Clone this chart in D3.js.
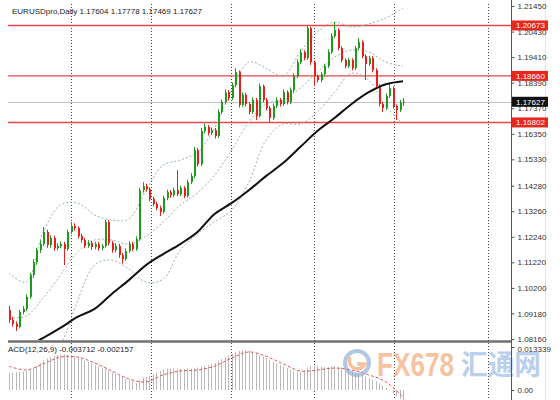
<!DOCTYPE html>
<html>
<head>
<meta charset="utf-8">
<script src="https://cdn.jsdelivr.net/npm/d3@7"></script>
<style>
	body { margin: 0; background: #fff; }
	svg { display: block; font-family: "Liberation Sans", Arial, sans-serif; }
</style>
</head>
<body>
<script>
//daily EURUSD candles
var opens = [1.0932,1.0892,1.0876,1.0864,1.0924,1.0936,1.0984,1.1071,1.1123,1.1171,
	1.1195,1.1243,1.1191,1.1219,1.1179,1.1187,1.1195,1.1175,1.1243,1.1267,
	1.1259,1.1227,1.1211,1.1187,1.1199,1.1183,1.1195,1.1179,1.1187,1.1283,
	1.1199,1.1171,1.1187,1.1151,1.1135,1.1167,1.1195,1.1175,1.1215,1.1410,
	1.1426,1.1414,1.1375,1.1355,1.1339,1.1323,1.1379,1.1402,1.1390,1.1410,
	1.1394,1.1418,1.1387,1.1442,1.1466,1.1570,1.1514,1.1646,1.1662,1.1638,
	1.1650,1.1626,1.1722,1.1762,1.1801,1.1778,1.1829,1.1881,1.1750,1.1790,
	1.1754,1.1722,1.1770,1.1706,1.1825,1.1770,1.1738,1.1698,1.1746,1.1770,
	1.1754,1.1801,1.1762,1.1809,1.1865,1.1921,1.1961,1.1937,1.2057,1.1921,
	1.1865,1.1849,1.1873,1.1905,1.1961,1.2025,1.2049,1.1977,1.1929,1.1905,
	1.1929,1.1897,1.1977,1.2001,1.1945,1.1913,1.1937,1.1889,1.1825,1.1754,
	1.1738,1.1786,1.1817,1.1746,1.1730,1.17604];
var highs = [1.0948,1.0904,1.0886,1.0932,1.0948,1.0994,1.1080,1.1134,1.1180,1.1210,
	1.1263,1.1252,1.1230,1.1228,1.1198,1.1206,1.1204,1.1252,1.1283,1.1278,
	1.1266,1.1236,1.1220,1.1210,1.1208,1.1204,1.1203,1.1196,1.1291,1.1290,
	1.1208,1.1198,1.1196,1.1160,1.1178,1.1206,1.1204,1.1226,1.1420,1.1442,
	1.1436,1.1422,1.1384,1.1364,1.1348,1.1388,1.1412,1.1410,1.1420,1.1490,
	1.1428,1.1426,1.1452,1.1478,1.1582,1.1578,1.1658,1.1676,1.1670,1.1660,
	1.1658,1.1732,1.1772,1.1812,1.1810,1.1840,1.1897,1.1888,1.1800,1.1798,
	1.1762,1.1780,1.1778,1.1836,1.1832,1.1778,1.1746,1.1756,1.1780,1.1778,
	1.1812,1.1808,1.1820,1.1876,1.1932,1.1972,1.1968,1.2069,1.2062,1.1928,
	1.1872,1.1882,1.1914,1.1972,1.2036,1.2081,1.2056,1.1984,1.1936,1.1938,
	1.1936,1.1986,1.2017,1.2008,1.1952,1.1946,1.1944,1.1896,1.1832,1.1762,
	1.1796,1.1833,1.1824,1.1752,1.1770,1.17778];
var lows = [1.0880,1.0866,1.0848,1.0858,1.0914,1.0928,1.0976,1.1060,1.1112,1.1160,
	1.1187,1.1180,1.1180,1.1168,1.1170,1.1178,1.1111,1.1168,1.1235,1.1248,
	1.1218,1.1200,1.1178,1.1180,1.1172,1.1174,1.1168,1.1170,1.1180,1.1190,
	1.1160,1.1162,1.1140,1.1117,1.1128,1.1160,1.1166,1.1168,1.1208,1.1400,
	1.1404,1.1366,1.1346,1.1330,1.1307,1.1316,1.1370,1.1380,1.1382,1.1386,
	1.1386,1.1378,1.1380,1.1434,1.1458,1.1504,1.1506,1.1636,1.1628,1.1630,
	1.1616,1.1618,1.1714,1.1754,1.1768,1.1770,1.1820,1.1740,1.1742,1.1744,
	1.1712,1.1714,1.1690,1.1700,1.1760,1.1728,1.1682,1.1690,1.1738,1.1744,
	1.1746,1.1752,1.1754,1.1800,1.1858,1.1912,1.1928,1.1930,1.1910,1.1825,
	1.1840,1.1840,1.1866,1.1898,1.1954,1.2018,1.1968,1.1920,1.1896,1.1898,
	1.1888,1.1890,1.1970,1.1936,1.1849,1.1906,1.1880,1.1816,1.1744,1.1722,
	1.1730,1.1778,1.1736,1.1690,1.1722,1.17469];
var closes = [1.0892,1.0876,1.0864,1.0924,1.0936,1.0984,1.1071,1.1123,1.1171,1.1195,
	1.1243,1.1191,1.1219,1.1179,1.1187,1.1195,1.1175,1.1243,1.1267,1.1259,
	1.1227,1.1211,1.1187,1.1199,1.1183,1.1195,1.1179,1.1187,1.1283,1.1199,
	1.1171,1.1187,1.1151,1.1135,1.1167,1.1195,1.1175,1.1215,1.1410,1.1426,
	1.1414,1.1375,1.1355,1.1339,1.1323,1.1379,1.1402,1.1390,1.1410,1.1394,
	1.1418,1.1387,1.1442,1.1466,1.1570,1.1514,1.1646,1.1662,1.1638,1.1650,
	1.1626,1.1722,1.1762,1.1801,1.1778,1.1829,1.1881,1.1750,1.1790,1.1754,
	1.1722,1.1770,1.1706,1.1825,1.1770,1.1738,1.1698,1.1746,1.1770,1.1754,
	1.1801,1.1762,1.1809,1.1865,1.1921,1.1961,1.1937,1.2057,1.1921,1.1865,
	1.1849,1.1873,1.1905,1.1961,1.2025,1.2049,1.1977,1.1929,1.1905,1.1929,
	1.1897,1.1977,1.2001,1.1945,1.1913,1.1937,1.1889,1.1825,1.1754,1.1738,
	1.1786,1.1817,1.1746,1.1730,1.1760,1.17627];

//indicator lines, sampled every 5 bars
var sampleBars = [0,5,10,15,20,25,30,35,40,45,50,55,60,65,70,75,80,85,90,95,100,105,110,115];
var maVals = [1.0748,1.0784,1.0820,1.0860,1.0904,1.0936,1.0996,1.1051,1.1111,1.1155,1.1195,1.1243,
	1.1315,1.1359,1.1410,1.1466,1.1518,1.1582,1.1646,1.1698,1.1754,1.1801,1.1833,1.1845];
var bbUpper = [1.1079,1.1043,1.1243,1.1351,1.1359,1.1311,1.1291,1.1295,1.1410,1.1510,1.1530,1.1562,
	1.1658,1.1809,1.1921,1.1897,1.1865,1.1961,1.2041,1.2081,1.2061,1.2073,1.2097,1.2137];
var bbMiddle = [1.0900,1.0908,1.0980,1.1071,1.1163,1.1211,1.1211,1.1195,1.1227,1.1283,1.1351,1.1399,
	1.1470,1.1570,1.1682,1.1754,1.1770,1.1817,1.1881,1.1941,1.1969,1.1961,1.1921,1.1905];
var bbLower = [1.0720,1.0772,1.0716,1.0792,1.0968,1.1111,1.1131,1.1095,1.1043,1.1055,1.1171,1.1235,
	1.1283,1.1331,1.1442,1.1610,1.1674,1.1674,1.1722,1.1801,1.1877,1.1849,1.1746,1.1674];

//MACD(12,26,9)
var macdHist = [0.0053,0.0054,0.0055,0.0056,0.0058,0.0060,0.0063,0.0068,0.0075,0.0084,
	0.0092,0.0098,0.0102,0.0106,0.0108,0.0110,0.0111,0.0110,0.0108,0.0104,
	0.0100,0.0096,0.0091,0.0087,0.0083,0.0078,0.0074,0.0068,0.0066,0.0060,
	0.0055,0.0050,0.0045,0.0040,0.0035,0.0030,0.0026,0.0022,0.0030,0.0038,
	0.0040,0.0044,0.0050,0.0055,0.0060,0.0063,0.0066,0.0066,0.0067,0.0066,
	0.0066,0.0065,0.0066,0.0067,0.0068,0.0070,0.0072,0.0075,0.0078,0.0080,
	0.0084,0.0090,0.0096,0.0102,0.0107,0.0112,0.0117,0.0121,0.0124,0.0124,
	0.0122,0.0118,0.0114,0.0108,0.0104,0.0099,0.0094,0.0088,0.0083,0.0078,
	0.0073,0.0068,0.0063,0.0058,0.0055,0.0056,0.0062,0.0070,0.0074,0.0076,
	0.0075,0.0072,0.0071,0.0072,0.0074,0.0074,0.0072,0.0070,0.0066,0.0062,
	0.0058,0.0054,0.0050,0.0046,0.0041,0.0036,0.0032,0.0027,0.0020,0.0013,
	0.0006,0.0000,-0.0010,-0.0020,-0.0028,-0.003712];
var macdSignal = [0.0074,0.0062,0.0081,0.0102,0.0102,0.0084,0.0059,0.0034,0.0025,0.0047,0.0059,0.0062,
	0.0074,0.0099,0.0118,0.0105,0.0081,0.0059,0.0062,0.0068,0.0062,0.0047,0.0025,-0.002157];

//axis labels and marked levels
var tickVals = [1.21450,1.20430,1.19410,1.18390,1.17370,1.16350,1.15330,1.14280,1.13260,1.12240,1.11220,1.10200,1.09180,1.08160];
var levels = [1.20673, 1.18660, 1.16802];
var lastPrice = 1.17627;
var gridBars = [18.1, 41.4, 64.7, 88.9, 112.5, 139.7];
var macdTicks = [0.013339, 0];
var macdMin = -0.006524;

var width = 560, height = 400,
	plotRight = 511;

var svg = d3.select("body")
	.append("svg")
	.attr("width", width)
	.attr("height", height);

var x = d3.scaleLinear().domain([0, closes.length - 1]).range([9, 403]);
var y = d3.scaleLinear().domain([1.0816, 1.2145]).range([339, 6]);
var ym = d3.scaleLinear().domain([0, 0.013339]).range([390, 347]);

var defs = svg.append("defs");
defs.append("clipPath").attr("id", "clipMain")
	.append("rect").attr("x", 0).attr("y", 0).attr("width", plotRight).attr("height", 340);
defs.append("clipPath").attr("id", "clipMacd")
	.append("rect").attr("x", 0).attr("y", 343).attr("width", plotRight).attr("height", 57);

//right side border
svg.append("line")
	.attr("x1", 545.5).attr("x2", 545.5).attr("y1", 0).attr("y2", height)
	.attr("stroke", "#e2e2e2");

//vertical dotted grid
svg.selectAll(".vgrid")
	.data(gridBars)
	.enter()
	.append("line")
	.attr("class", "vgrid")
	.attr("x1", function(d){ return Math.round(x(d)) + 0.5; })
	.attr("x2", function(d){ return Math.round(x(d)) + 0.5; })
	.attr("y1", 4).attr("y2", height)
	.attr("stroke", "#444")
	.attr("stroke-dasharray", "1,2");

var main = svg.append("g").attr("clip-path", "url(#clipMain)");

//price line and levels
main.append("line")
	.attr("x1", 8).attr("x2", plotRight)
	.attr("y1", Math.round(y(lastPrice)) + 0.5).attr("y2", Math.round(y(lastPrice)) + 0.5)
	.attr("stroke", "#c4c4c4");

main.selectAll(".level")
	.data(levels)
	.enter()
	.append("line")
	.attr("class", "level")
	.attr("x1", 8).attr("x2", plotRight)
	.attr("y1", function(d){ return y(d); })
	.attr("y2", function(d){ return y(d); })
	.attr("stroke", "#e8474a")
	.attr("stroke-width", 1.4);

//bollinger bands
var bandLine = function(vals){
	return d3.line()
		.x(function(d, i){ return x(sampleBars[i]); })
		.y(function(d){ return y(d); })
		.curve(d3.curveCatmullRom)(vals);
};
[bbUpper, bbMiddle, bbLower].forEach(function(vals){
	main.append("path")
		.attr("d", bandLine(vals))
		.attr("fill", "none")
		.attr("stroke", "#92b8a6")
		.attr("stroke-width", 1)
		.attr("stroke-dasharray", "2,2");
});

//candles
var bars = closes.map(function(c, i){
	return {i: i, o: opens[i], h: highs[i], l: lows[i], c: c};
});
var candle = main.selectAll(".candle")
	.data(bars)
	.enter()
	.append("g")
	.attr("class", "candle")
	.attr("fill", function(d){ return d.c >= d.o ? "#1f9a1f" : "#e5201c"; })
	.attr("stroke", function(d){ return d.c >= d.o ? "#1f9a1f" : "#e5201c"; });
candle.append("line")
	.attr("x1", function(d){ return Math.round(x(d.i)) + 0.5; })
	.attr("x2", function(d){ return Math.round(x(d.i)) + 0.5; })
	.attr("y1", function(d){ return y(d.h); })
	.attr("y2", function(d){ return y(d.l); });
candle.append("rect")
	.attr("stroke", "none")
	.attr("x", function(d){ return Math.round(x(d.i)); })
	.attr("width", 2)
	.attr("y", function(d){ return y(Math.max(d.o, d.c)); })
	.attr("height", function(d){ return Math.max(1, Math.abs(y(d.o) - y(d.c))); });

//moving average
main.append("path")
	.attr("d", d3.line()
		.x(function(d, i){ return x(sampleBars[i]); })
		.y(function(d){ return y(d); })
		.curve(d3.curveCatmullRom)(maVals))
	.attr("fill", "none")
	.attr("stroke", "#111")
	.attr("stroke-width", 2);

//panel separator
svg.append("line")
	.attr("x1", 8).attr("x2", plotRight)
	.attr("y1", 341.5).attr("y2", 341.5)
	.attr("stroke", "#707070")
	.attr("stroke-width", 2.5);

//MACD panel
var macd = svg.append("g").attr("clip-path", "url(#clipMacd)");
macd.selectAll(".hist")
	.data(macdHist)
	.enter()
	.append("line")
	.attr("class", "hist")
	.attr("x1", function(d, i){ return Math.round(x(i)) + 0.5; })
	.attr("x2", function(d, i){ return Math.round(x(i)) + 0.5; })
	.attr("y1", ym(0))
	.attr("y2", function(d){ return ym(d); })
	.attr("stroke", "#b9b9b9");
macd.append("path")
	.attr("d", d3.line()
		.x(function(d, i){ return x(sampleBars[i]); })
		.y(function(d){ return ym(d); })
		.curve(d3.curveCatmullRom)(macdSignal))
	.attr("fill", "none")
	.attr("stroke", "#e25757")
	.attr("stroke-width", 1)
	.attr("stroke-dasharray", "3,2");

//watermark
var wm = svg.append("g").attr("opacity", 0.65);
wm.append("circle")
	.attr("cx", 357).attr("cy", 363).attr("r", 12)
	.attr("fill", "none").attr("stroke", "#8aaad2").attr("stroke-width", 4);
wm.append("path")
	.attr("d", "M350,357 A8,8 0 1 0 365,364 L357,364")
	.attr("fill", "none").attr("stroke", "#f2a06a").attr("stroke-width", 3.5);
wm.append("text")
	.attr("x", 377).attr("y", 376)
	.attr("font-size", 34).attr("font-weight", "bold")
	.attr("textLength", 77).attr("lengthAdjust", "spacingAndGlyphs")
	.attr("fill", "#f5a36f")
	.text("FX678");
wm.append("text")
	.attr("x", 461).attr("y", 375)
	.attr("font-size", 28).attr("font-weight", "bold")
	.attr("font-family", "'Noto Sans CJK SC', sans-serif")
	.attr("textLength", 80).attr("lengthAdjust", "spacingAndGlyphs")
	.attr("fill", "#94b6e2")
	.text("汇通网");

//right axis
svg.append("line")
	.attr("x1", plotRight + 0.5).attr("x2", plotRight + 0.5).attr("y1", 0).attr("y2", height)
	.attr("stroke", "#555");

var axis = svg.append("g")
	.attr("class", "axis")
	.attr("transform", "translate(" + (plotRight + 0.5) + ",0)")
	.call(d3.axisRight(y).tickValues(tickVals).tickSize(3).tickSizeOuter(0).tickFormat(d3.format(".5f")));
axis.select(".domain").remove();

var macdAxis = svg.append("g")
	.attr("class", "axis")
	.attr("transform", "translate(" + (plotRight + 0.5) + ",0)")
	.call(d3.axisRight(ym).tickValues(macdTicks).tickSize(3).tickSizeOuter(0)
		.tickFormat(function(d){ return d === 0 ? "0.00" : d.toFixed(6); }));
macdAxis.select(".domain").remove();
macdAxis.append("text")
	.attr("x", 5).attr("y", 406)
	.text(macdMin.toFixed(6));

svg.selectAll(".axis text").attr("font-size", 8).attr("fill", "#333")
	.attr("font-family", "'Liberation Sans', Arial, sans-serif");
svg.selectAll(".axis .tick line").attr("stroke", "#555");
macdAxis.selectAll(".tick text").attr("dy", function(d){ return d === 0 ? "0.32em" : "0.6em"; });

//price labels on the axis
var priceLabel = function(v, bg){
	var g = svg.append("g").attr("transform", "translate(" + (plotRight + 1) + "," + y(v) + ")");
	g.append("rect").attr("x", 0).attr("y", -5).attr("width", 36).attr("height", 10).attr("fill", bg);
	g.append("text").attr("x", 4).attr("y", 3).attr("font-size", 8).attr("fill", "#fff")
		.text(d3.format(".5f")(v));
};
levels.forEach(function(v){ priceLabel(v, "#e8281f"); });
priceLabel(lastPrice, "#111");

//header texts
svg.append("text")
	.attr("x", 12).attr("y", 14)
	.attr("font-size", 8).attr("fill", "#222")
	.text("EURUSDpro,Daily  " + [opens[opens.length-1], highs[highs.length-1], lows[lows.length-1], closes[closes.length-1]].map(d3.format(".5f")).join(" "));
svg.append("text")
	.attr("x", 8).attr("y", 352)
	.attr("font-size", 8).attr("fill", "#222")
	.text("ACD(12,26,9) " + macdHist[macdHist.length-1].toFixed(6) + " " + macdSignal[macdSignal.length-1].toFixed(6));
</script>
</body>
</html>
